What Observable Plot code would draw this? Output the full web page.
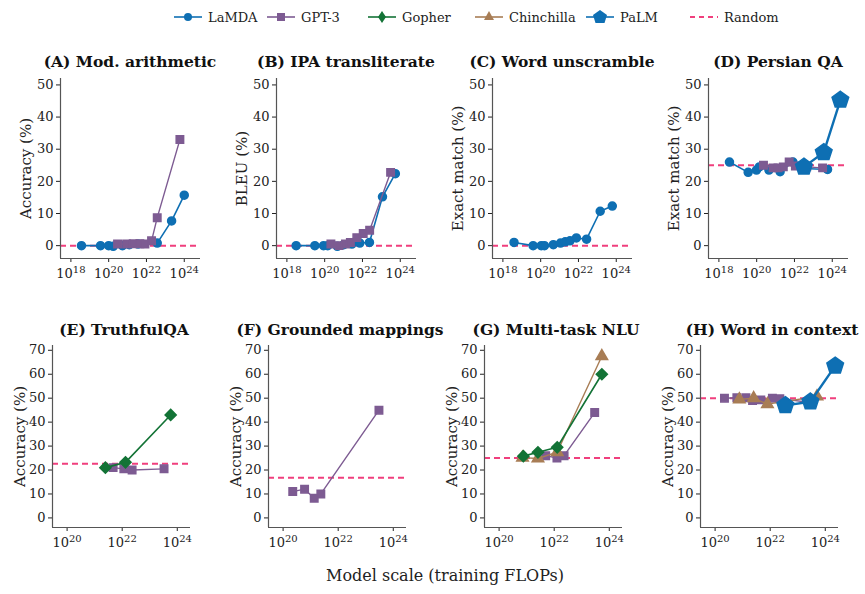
<!DOCTYPE html>
<html><head><meta charset="utf-8">
<script src="https://cdn.jsdelivr.net/npm/d3@7"></script>
<script src="https://cdn.jsdelivr.net/npm/@observablehq/plot@0.6"></script>
<style>
body{margin:0;background:#fff;font-family:"DejaVu Serif","Liberation Serif",serif;}
#root{position:relative;width:865px;height:594px;}
.panel{position:absolute;}
.title{position:absolute;font-weight:bold;font-size:15.5px;white-space:nowrap;text-align:center;width:216px;color:#111}
.leg{position:absolute;top:7px;font-size:13px;display:flex;align-items:center;color:#222}
</style></head>
<body><div id="root"></div>
<script>
// ---- data: [log10 FLOPs, value] ----
const seriesNames = ["LaMDA","GPT-3","Gopher","Chinchilla","PaLM"];
const colors = {"LaMDA":"#0e6fb3","GPT-3":"#7d5b92","Gopher":"#137336","Chinchilla":"#a87d55","PaLM":"#0e6fb3"};
const randomColor = "#f03f7d";

const A_LaMDA = [[18.56,0],[19.57,0],[20.0,0],[20.24,-0.2],[20.73,0],[21.09,0.3],[21.56,0.5],[22.57,0.8],[23.33,7.7],[24.0,15.7]];
const A_GPT3 = [[20.47,0.5],[20.95,0.5],[21.3,0.6],[21.65,0.6],[21.92,0.5],[22.27,1.5],[22.57,8.7],[23.77,33]];
const B_LaMDA = [[18.49,0],[19.48,0],[19.94,0],[20.16,0],[20.67,-0.2],[21.01,0.3],[21.44,0.5],[21.86,0.8],[22.37,1],[23.06,15.2],[23.74,22.4]];
const B_GPT3 = [[20.33,0.5],[20.76,0],[21.1,0.5],[21.36,1],[21.7,2.5],[22.04,3.8],[22.38,4.8],[23.49,22.8]];
const C_LaMDA = [[18.59,1],[19.6,0],[20.03,0],[20.2,0],[20.67,0.3],[21.05,0.8],[21.3,1.2],[21.55,1.5],[21.89,2.4],[22.43,2],[23.15,10.7],[23.79,12.3]];
const D_LaMDA = [[18.56,26],[19.55,22.8],[19.99,23.5],[20.14,24.5],[20.65,23.5],[21.24,23],[21.92,26],[22.48,24],[23.75,23.7]];
const D_GPT3 = [[20.36,25],[20.87,24.2],[21.13,24.2],[21.41,24.5],[21.72,26],[22.05,24.8],[22.65,24.5],[23.49,24.2]];
const D_PaLM = [[22.5,24.5],[23.55,29],[24.43,45.3]];
const E_Gopher = [[21.39,21],[22.12,23.2],[23.76,43]];
const E_GPT3 = [[21.67,21],[22.06,20.5],[22.36,20],[23.52,20.5]];
const F_GPT3 = [[20.35,11],[20.78,12],[21.13,8.2],[21.37,10],[23.48,45]];
const G_Gopher = [[20.88,25.8],[21.41,27.4],[22.11,29.5],[23.73,60]];
const G_Chinchilla = [[20.85,25.2],[21.41,24.8],[22.11,27.5],[23.73,67.5]];
const G_GPT3 = [[21.69,26],[22.1,25],[22.36,26],[23.47,44]];
const H_GPT3 = [[20.34,50],[20.79,50.2],[21.12,50.2],[21.36,49],[21.66,49.3],[22.08,50],[22.35,49.8],[23.46,48.2]];
const H_Chinchilla = [[20.88,49.5],[21.4,50],[21.9,47.5],[23.7,50.7]];
const H_PaLM = [[22.55,47],[23.46,48.5],[24.36,63.5]];

const panels = [
 {id:"A",title:"(A) Mod. arithmetic",ylabel:"Accuracy (%)",row:0,col:0,random:0,series:{"LaMDA":A_LaMDA,"GPT-3":A_GPT3}},
 {id:"B",title:"(B) IPA transliterate",ylabel:"BLEU (%)",row:0,col:1,random:0,series:{"LaMDA":B_LaMDA,"GPT-3":B_GPT3}},
 {id:"C",title:"(C) Word unscramble",ylabel:"Exact match (%)",row:0,col:2,random:0,series:{"LaMDA":C_LaMDA}},
 {id:"D",title:"(D) Persian QA",ylabel:"Exact match (%)",row:0,col:3,random:25,series:{"LaMDA":D_LaMDA,"GPT-3":D_GPT3,"PaLM":D_PaLM}},
 {id:"E",title:"(E) TruthfulQA",ylabel:"Accuracy (%)",row:1,col:0,random:22.6,series:{"GPT-3":E_GPT3,"Gopher":E_Gopher}},
 {id:"F",title:"(F) Grounded mappings",ylabel:"Accuracy (%)",row:1,col:1,random:16.8,series:{"GPT-3":F_GPT3}},
 {id:"G",title:"(G) Multi-task NLU",ylabel:"Accuracy (%)",row:1,col:2,random:25,series:{"GPT-3":G_GPT3,"Chinchilla":G_Chinchilla,"Gopher":G_Gopher}},
 {id:"H",title:"(H) Word in context",ylabel:"Accuracy (%)",row:1,col:3,random:50,series:{"GPT-3":H_GPT3,"Chinchilla":H_Chinchilla,"PaLM":H_PaLM}}
];
const topXTicks=[18,20,22,24], botXTicks=[20,22,24];
const topYTicks=[0,10,20,30,40,50], botYTicks=[0,10,20,30,40,50,60,70];

const pentagon = {draw(ctx,size){const r=Math.sqrt(size/Math.PI)*1.25;for(let i=0;i<5;i++){const a=-Math.PI/2+i*2*Math.PI/5;const x=r*Math.cos(a),y=r*Math.sin(a);i?ctx.lineTo(x,y):ctx.moveTo(x,y);}ctx.closePath();}};
const symbols = {"LaMDA":"circle","GPT-3":"square","Gopher":"diamond2","Chinchilla":"triangle2","PaLM":pentagon};
const radii = {"LaMDA":4,"GPT-3":4.2,"Gopher":5,"Chinchilla":5.5,"PaLM":7};
const widths = {"LaMDA":1.6,"GPT-3":1.4,"Gopher":1.6,"Chinchilla":1.4,"PaLM":2.4};
const FONT='"DejaVu Serif","Liberation Serif",serif';

const root=document.getElementById("root");
for(const p of panels){
  const top=p.row===0;
  const ml= top?60:52, mr= top?16:26;
  const left = p.col*216;
  const svgTop = top?75:342;
  const marks=[];
  marks.push(Plot.ruleY([p.random],{stroke:randomColor,strokeWidth:2,strokeDasharray:"6,4"}));
  for(const name of Object.keys(p.series)){
    const d=p.series[name];
    marks.push(Plot.line(d,{x:"0",y:"1",stroke:colors[name],strokeWidth:widths[name]}));
    marks.push(Plot.dot(d,{x:"0",y:"1",fill:colors[name],stroke:colors[name],symbol:()=>symbols[name],r:radii[name]}));
  }
  marks.push(Plot.axisX({ticks:top?topXTicks:botXTicks,tickFormat:d=>"E"+d,tickSize:4,fontSize:13,tickPadding:6,label:null}));
  marks.push(Plot.axisY({ticks:top?topYTicks:botYTicks,tickSize:4,fontSize:13,tickPadding:3,label:p.ylabel,labelAnchor:"center",labelArrow:"none",labelOffset:top?40:38}));
  marks.push(Plot.ruleX([top?17.45:19.47],{stroke:"#555",strokeWidth:1.2}));
  marks.push(Plot.ruleY([-4],{stroke:"#555",strokeWidth:1.2}));
  const chart=Plot.plot({
    width:216,height:top?213:215,marginLeft:ml,marginRight:mr,marginTop:3,marginBottom:30,
    style:{fontFamily:FONT,fontSize:"13px",color:"#222",overflow:"visible"},
    x:{type:"linear",domain:top?[17.45,24.86]:[19.47,24.48]},
    y:{domain:top?[-4,52]:[-4,72]},
    symbol:{type:"identity"},
    marks
  });
  chart.querySelectorAll("text").forEach(t=>{
    const s=t.textContent;
    if(/^E\d+$/.test(s)){t.textContent="";
      const ns="http://www.w3.org/2000/svg";
      const a=document.createElementNS(ns,"tspan");a.textContent="10";
      const b=document.createElementNS(ns,"tspan");b.textContent=s.slice(1);b.setAttribute("dy","-0.45em");b.setAttribute("font-size","10");
      t.appendChild(a);t.appendChild(b);}
  });
  const yl=chart.querySelector('[aria-label="y-axis label"] text'); if(yl) yl.setAttribute("font-size","15");
  const div=document.createElement("div");div.className="panel";div.style.left=left+"px";div.style.top=svgTop+"px";
  div.appendChild(chart);root.appendChild(div);
  const t=document.createElement("div");t.className="title";t.textContent=p.title;
  t.style.left=(left+(top?22:16))+"px";t.style.top=(top?52:320)+"px";root.appendChild(t);
}
// legend
const legItems=[["LaMDA",172],["GPT-3",265],["Gopher",366],["Chinchilla",473],["PaLM",584],["Random",688]];
for(const [name,x] of legItems){
  const el=document.createElement("div");el.className="leg";el.style.left=x+"px";
  let svg;
  if(name==="Random") svg=`<svg width="32" height="20"><line x1="2" x2="30" y1="10" y2="10" stroke="${randomColor}" stroke-width="2" stroke-dasharray="5,4"/></svg>`;
  else{
    const c=colors[name];
    let m="";
    if(name==="LaMDA") m=`<circle cx="16" cy="10" r="4" fill="${c}"/>`;
    if(name==="GPT-3") m=`<rect x="12" y="6" width="8" height="8" fill="${c}"/>`;
    if(name==="Gopher") m=`<path d="M16 4L20 10L16 16L12 10Z" fill="${c}"/>`;
    if(name==="Chinchilla") m=`<path d="M16 4L21 13L11 13Z" fill="${c}"/>`;
    if(name==="PaLM") m=`<path d="M16 3L23 8L20.5 16L11.5 16L9 8Z" fill="${c}"/>`;
    svg=`<svg width="32" height="20"><line x1="2" x2="30" y1="10" y2="10" stroke="${c}" stroke-width="1.6"/>${m}</svg>`;
  }
  el.innerHTML=svg+`<span style="margin-left:4px">${name}</span>`;root.appendChild(el);
}
const xl=document.createElement("div");xl.textContent="Model scale (training FLOPs)";
xl.style.cssText="position:absolute;top:566px;left:0;width:890px;text-align:center;font-size:16px;color:#222";
root.appendChild(xl);
</script></body></html>
